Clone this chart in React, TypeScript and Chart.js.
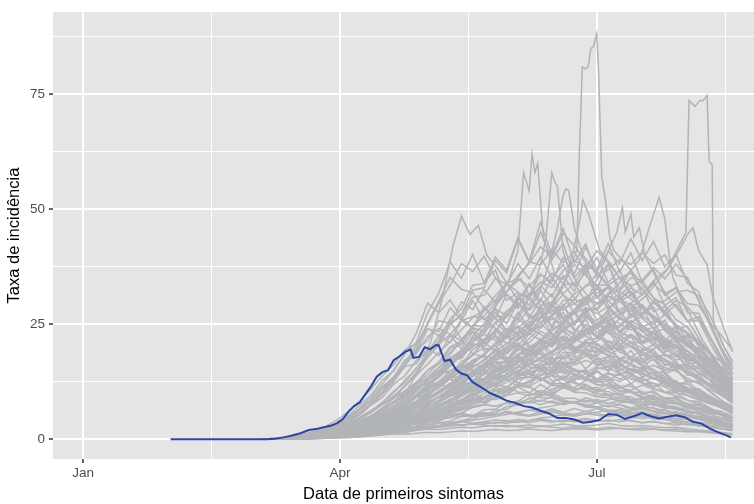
import React, { useEffect, useRef } from "react";
import { Chart, registerables } from "chart.js";

Chart.register(...registerables);

// ---- axis ticks (day of year 2020, 0 = 1 Jan) ----
const xMajorTicks = [0, 91, 182];
const xMajorLabels = ["Jan", "Apr", "Jul"];
const xMinorTicks = [45.5, 136.5, 227.5];
const yMajorTicks = [0, 25, 50, 75];
const yMinorTicks = [12.5, 37.5, 62.5, 87.5];

// ---- highlighted series (blue) ----
const blueDays = [31,65,68,71,74,77,80,83,86,88,90,92,94,96,98,100,102,104,106,108,110,112,114,116,117,119,121,123,125,126,128,130,132,134,136,138,141,144,147,150,153,156,159,162,165,168,171,174,177,180,183,186,189,192,195,198,201,204,207,210,213,216,219,222,225,228,229.5];
const blueVals = [0,0,0.1,0.4,0.8,1.3,2.0,2.3,2.7,3.0,3.5,4.4,6.0,7.2,8.0,9.8,11.5,13.6,14.6,15.0,17.2,18.0,19.0,19.5,17.7,17.9,20.0,19.6,20.5,20.4,17.0,17.3,15.2,14.3,13.9,12.4,11.3,10.1,9.3,8.4,7.9,7.2,6.9,6.2,5.6,4.6,4.6,4.3,3.6,3.8,4.2,5.5,5.3,4.4,5.0,5.7,5.0,4.5,4.9,5.2,4.8,3.8,3.4,2.3,1.5,0.8,0.4];

// ---- common day grid for grey series ----
const gridDays = [62,66,70,74,78,82,86,90,94,98,102,106,110,114,118,122,126,130,134,138,142,146,150,154,158,162,166,170,174,178,182,186,190,194,198,202,206,210,214,218,222,226,230];

const L1 = [0,0,0,0.1,0.2,0.3,0.4,0.6,0.8,1.0,1.2,1.5,1.6,1.8,2.0,2.2,2.1,2.4,2.6,2.5,2.8,3.0,2.7,2.9,3.1,2.8,3.0,3.3,3.0,2.9,3.1,3.4,3.0,2.8,3.0,2.7,2.5,2.6,2.3,2.0,1.8,1.5,1.2];
const L2 = [0,0,0.1,0.2,0.4,0.5,0.7,1.0,1.3,1.5,1.9,2.2,2.5,2.4,2.8,3.2,3.0,3.6,3.9,3.5,3.8,4.2,4.0,3.7,4.1,4.4,4.0,3.8,4.2,4.5,4.1,3.9,4.3,4.0,3.6,3.8,3.4,3.1,3.3,2.9,2.6,2.2,1.9];
const L3 = [0,0,0,0,0.1,0.2,0.3,0.4,0.6,0.7,0.9,1.0,1.2,1.1,1.3,1.5,1.4,1.6,1.8,1.7,1.9,2.1,1.9,2.0,2.2,2.0,1.9,2.1,2.3,2.2,2.0,2.2,2.4,2.1,2.0,2.2,1.9,1.8,1.6,1.7,1.4,1.2,1.0];
const L4 = [0,0.1,0.2,0.3,0.5,0.8,1.1,1.5,2.0,2.4,2.9,3.3,3.8,4.2,4.6,5.0,4.7,5.3,5.6,5.2,5.0,5.4,5.8,5.3,5.0,5.5,5.9,5.4,5.1,5.6,5.2,4.9,5.3,4.8,4.5,4.9,4.4,4.1,3.8,3.5,3.1,2.8,2.4];
const L5 = [0,0,0.1,0.1,0.2,0.4,0.5,0.7,0.9,1.2,1.4,1.7,2.0,2.3,2.6,2.5,2.9,3.2,3.0,3.4,3.7,3.5,3.9,4.3,4.0,4.6,4.9,5.3,5.0,5.5,5.9,6.3,5.8,6.2,6.6,6.1,5.7,6.0,5.4,5.0,4.6,4.1,3.7];
const L6 = [0,0,0,0.1,0.3,0.5,0.8,1.1,1.4,1.7,2.1,2.4,2.7,3.0,3.4,3.2,3.6,3.3,3.0,3.3,3.1,2.8,3.0,2.7,2.5,2.8,2.6,2.4,2.7,2.5,2.3,2.6,2.4,2.2,2.5,2.3,2.0,2.2,1.9,1.7,1.5,1.3,1.1];
const L7 = [0,0,0.1,0.2,0.3,0.5,0.7,0.9,1.2,1.6,2.0,2.5,3.0,3.5,4.0,4.6,5.2,5.8,6.5,7.0,7.5,7.2,7.8,8.3,7.9,8.5,8.0,7.6,8.1,7.5,7.0,7.4,6.8,6.2,6.6,6.0,5.5,5.8,5.1,4.6,4.0,3.5,3.0];
const L8 = [0,0,0,0.1,0.2,0.3,0.4,0.5,0.6,0.8,1.0,1.3,1.6,1.9,2.2,2.5,2.9,3.3,3.7,4.1,4.5,5.0,5.4,5.9,6.3,6.8,7.2,7.7,8.1,8.5,8.0,8.6,9.0,8.5,8.8,8.2,7.7,8.0,7.3,6.7,6.0,5.4,4.8];

const E1 = [0,0.1,0.3,0.6,1.0,1.5,2.2,3.0,4.5,6.5,8.5,11.2,13.1,16.4,18.6,22.3,24.1,22.8,21.4,18.6,17.9,15.6,14.4,12.3,11.5,9.8,9.6,8.2,8.1,7.0,6.8,5.9,5.7,5.0,5.1,4.4,4.3,3.8,3.6,3.1,2.9,2.4,2.1];
const E2 = [0,0,0.1,0.3,0.6,1.0,1.5,2.1,3.0,4.0,5.2,6.5,8.0,9.5,11.2,12.1,14.3,14.9,16.2,15.1,14.8,13.2,12.9,11.5,11.3,10.2,10.0,8.9,8.9,8.0,8.7,7.8,7.6,6.8,7.5,6.6,6.4,5.7,5.4,4.8,4.4,3.7,3.3];
const E3 = [0,0.1,0.2,0.4,0.8,1.3,2.0,3.0,4.6,6.8,9.2,12.0,15.0,18.5,23.0,29.6,27.5,30.3,26.4,24.2,21.0,19.3,16.6,16.2,14.1,13.2,11.7,11.6,10.2,10.1,9.2,9.1,8.3,8.3,7.6,7.5,6.8,6.6,5.8,5.7,4.9,4.5,3.9];
const E4 = [0,0,0.1,0.2,0.4,0.7,1.1,1.6,2.3,3.1,4.0,5.1,6.4,7.8,9.3,11.2,12.5,14.8,16.1,18.5,19.8,19.5,17.8,17.6,15.7,15.4,13.8,13.5,12.1,11.9,10.6,10.4,9.4,9.2,8.2,8.0,7.0,6.9,6.0,5.6,4.9,4.5,3.8];
const E5 = [0,0,0.1,0.3,0.7,1.2,1.9,2.8,4.0,5.6,7.5,9.8,12.5,16.2,19.6,25.3,30.1,35.2,32.6,31.9,28.5,26.3,23.6,22.8,19.7,18.8,16.6,15.8,13.7,13.3,11.9,11.7,10.3,10.2,9.0,8.9,7.9,7.7,6.8,6.5,5.6,5.3,4.5];
const E6 = [0,0,0.1,0.2,0.4,0.6,0.9,1.3,1.9,2.6,3.4,4.3,5.4,6.6,7.9,9.3,10.1,11.6,12.1,11.6,12.7,11.8,11.4,10.3,10.1,9.1,9.0,8.0,7.9,7.1,7.1,6.3,6.3,5.6,5.7,5.0,5.0,4.4,4.3,3.7,3.5,2.9,2.6];
const E7 = [0,0.1,0.2,0.4,0.7,1.1,1.6,2.3,3.3,4.6,6.1,8.0,10.4,12.3,15.5,17.7,20.8,22.7,25.8,26.7,26.3,24.1,22.4,20.1,19.3,17.1,16.3,14.6,14.3,13.1,12.8,11.6,11.3,10.2,10.2,9.1,9.0,8.0,7.8,6.8,6.5,5.4,5.0];
const E8 = [0,0,0,0.1,0.3,0.5,0.8,1.2,1.7,2.4,3.2,4.1,5.2,6.4,7.7,9.2,10.2,12.0,13.0,14.9,15.7,17.4,17.7,17.7,16.3,16.1,14.7,14.5,13.2,13.1,11.8,11.7,10.5,10.4,9.3,9.2,8.2,8.0,7.0,6.8,5.8,5.6,4.7];
const E9 = [0,0,0.1,0.2,0.3,0.5,0.8,1.1,1.5,2.0,2.6,3.3,4.1,5.0,6.0,7.2,7.9,9.4,10.1,11.6,12.0,13.5,13.5,14.5,13.4,13.4,12.1,12.1,11.0,10.9,9.9,9.8,8.8,8.7,7.8,7.7,6.8,6.7,5.8,5.7,4.8,4.7,3.9];
const E10 = [0,0,0.1,0.2,0.5,0.8,1.2,1.8,2.5,3.4,4.5,5.8,7.3,9.2,10.6,13.0,14.3,16.8,18.0,20.4,20.8,22.3,20.9,20.8,18.8,18.6,16.8,16.6,14.8,14.7,13.1,13.0,11.6,11.5,10.3,10.1,9.0,8.9,7.7,7.4,6.4,6.1,5.0];

const M1 = [0,0,0.1,0.2,0.4,0.7,1.0,1.4,2.0,2.7,3.6,4.5,5.9,7.2,8.3,10.5,12.1,13.8,16.9,18.2,21.5,23.1,27.4,25.9,30.8,33.2,36.1,34.8,38.0,35.6,33.4,30.1,31.5,27.2,24.8,23.0,20.6,21.4,18.1,16.3,14.2,12.5,10.8];
const M2 = [0,0,0,0.1,0.3,0.5,0.8,1.2,1.7,2.2,3.0,3.8,4.9,6.1,7.0,8.6,10.2,11.5,13.4,15.8,17.1,19.6,22.3,21.4,24.9,26.7,28.3,26.2,27.5,24.1,22.6,20.3,19.8,17.5,15.9,14.7,13.2,12.6,11.1,9.8,8.9,7.6,6.7];
const M3 = [0,0,0.1,0.1,0.2,0.4,0.6,0.9,1.3,1.8,2.4,3.1,3.9,4.8,5.9,7.1,8.0,9.6,11.2,12.3,14.5,16.1,17.2,19.8,21.0,23.5,22.1,25.6,27.9,29.4,31.8,33.1,30.6,32.2,28.7,26.0,24.5,21.9,20.4,18.1,16.5,14.2,12.8];
const M4 = [0,0.1,0.2,0.3,0.5,0.8,1.2,1.7,2.4,3.2,4.1,5.3,6.4,7.9,9.1,10.8,12.5,13.7,15.6,17.2,18.4,20.6,22.1,23.0,24.2,22.8,21.5,22.4,20.1,18.7,17.9,16.2,15.4,14.0,13.1,12.2,11.4,10.1,9.5,8.6,7.7,6.9,6.0];
const M5 = [0,0,0,0.1,0.2,0.3,0.5,0.7,1.0,1.4,1.9,2.5,3.3,4.2,5.1,6.3,7.5,8.2,10.1,11.4,12.8,14.9,16.2,18.5,19.8,21.6,24.0,25.3,28.1,31.0,29.4,30.2,27.5,25.1,23.8,21.0,19.6,18.2,16.0,14.4,12.9,11.5,10.1];
const M6 = [0,0,0.1,0.2,0.3,0.5,0.7,1.0,1.4,1.9,2.5,3.1,3.9,4.6,5.5,6.6,7.4,8.5,9.8,10.6,11.9,13.1,14.0,15.6,16.4,17.8,18.9,20.1,19.2,18.6,17.3,17.9,16.1,15.2,14.6,13.2,12.5,11.6,10.4,9.6,8.5,7.6,6.8];
const M7 = [0,0.1,0.2,0.4,0.6,0.9,1.4,2.0,2.8,3.8,5.0,6.4,8.1,9.8,11.9,14.2,16.5,18.9,21.3,24.6,26.8,29.5,32.1,34.8,33.2,36.0,33.7,31.4,29.6,27.1,25.5,23.0,21.8,20.1,18.4,17.2,15.6,14.8,13.3,12.1,10.8,9.6,8.5];
const M8 = [0,0,0,0.1,0.1,0.2,0.4,0.6,0.8,1.1,1.5,2.0,2.6,3.3,4.0,4.9,5.9,7.0,8.1,9.4,10.5,12.0,13.3,14.9,16.4,17.2,18.9,20.5,21.7,23.2,24.9,26.3,25.1,23.8,24.4,22.1,20.6,19.2,17.5,16.3,14.6,13.1,11.8];
const M9 = [0,0,0.1,0.2,0.3,0.5,0.8,1.1,1.6,2.2,3.0,3.9,5.1,6.4,7.9,9.6,11.6,13.8,16.0,18.3,21.2,23.4,26.8,29.1,31.5,34.2,33.0,36.7,38.9,37.2,41.0,38.4,35.1,36.2,32.6,29.9,27.4,25.0,23.2,20.8,18.6,16.9,15.0];
const M10 = [0,0,0.1,0.2,0.4,0.6,0.9,1.3,1.8,2.4,3.1,3.9,4.8,5.8,6.9,8.0,9.2,10.5,11.8,12.6,14.1,15.3,16.0,17.4,18.6,19.2,20.9,21.3,22.1,20.4,19.6,18.2,17.6,16.0,15.4,14.1,13.0,12.2,11.0,10.1,9.0,8.2,7.3];
const M11 = [0,0,0.1,0.3,0.5,0.8,1.2,1.8,2.5,3.4,4.5,5.8,7.3,9.1,10.9,12.9,15.0,17.2,19.1,21.3,23.6,25.2,27.9,29.4,28.1,30.2,29.0,26.5,27.8,24.2,22.6,21.3,19.0,17.9,16.1,15.2,13.6,12.5,11.2,10.0,8.9,7.9,6.9];
const M12 = [0,0,0,0.1,0.2,0.3,0.5,0.7,0.9,1.2,1.6,2.0,2.5,3.1,3.7,4.4,5.2,6.0,6.9,7.8,8.8,9.9,10.7,11.8,12.6,13.9,14.5,15.6,16.2,17.1,16.4,15.8,16.2,14.9,14.1,13.2,12.5,11.4,10.6,9.7,8.8,7.9,7.0];
const M13 = [0,0,0.1,0.2,0.4,0.6,0.9,1.3,1.9,2.6,3.5,4.6,5.9,7.4,9.2,11.3,13.6,16.3,19.0,22.4,25.1,28.9,32.0,35.6,38.2,41.9,39.6,44.8,42.1,38.5,36.0,33.2,30.5,29.1,26.3,24.2,22.0,20.1,18.4,16.5,14.6,12.8,11.2];
const M14 = [0,0.1,0.2,0.4,0.7,1.1,1.6,2.3,3.2,4.4,5.8,7.5,9.4,11.6,13.9,16.3,18.9,21.2,23.8,26.5,28.1,31.2,33.9,32.0,30.6,28.2,29.4,26.1,24.0,22.5,20.8,19.2,17.6,16.5,15.1,14.0,12.8,11.9,10.8,9.7,8.7,7.7,6.8];
const M15 = [0,0,0.1,0.2,0.3,0.5,0.7,1.0,1.4,1.9,2.5,3.2,4.0,4.9,5.9,7.0,8.2,9.3,10.6,11.9,13.1,14.6,15.4,16.9,18.1,19.7,20.4,22.2,21.6,23.8,25.1,23.4,22.6,21.0,19.8,18.5,17.4,16.0,14.8,13.2,11.9,10.6,9.4];

const T1 = [0,0,0,0.1,0.2,0.3,0.4,0.6,0.8,1.1,1.4,1.9,2.2,3.0,3.4,4.4,4.8,6.1,6.6,8.2,8.7,10.6,11.0,13.1,13.6,16.1,16.3,18.8,19.0,21.6,21.9,24.4,24.7,27.3,27.0,29.8,27.9,30.2,28.8,26.1,22.0,17.5,13.0];
const T2 = [0,0,0,0.1,0.1,0.2,0.3,0.5,0.7,0.9,1.2,1.7,1.9,2.7,2.9,3.9,4.2,5.5,5.7,7.2,7.6,9.3,9.6,11.6,11.8,14.0,14.3,16.5,16.8,18.9,19.3,21.1,21.4,22.8,21.3,23.1,21.0,20.5,18.2,17.0,14.6,11.8,9.5];
const T3 = [0,0,0.1,0.2,0.3,0.5,0.7,1.0,1.4,1.9,2.5,3.3,3.9,5.2,5.9,7.7,8.5,10.7,11.5,14.2,15.0,17.9,18.9,22.1,23.0,26.3,26.8,30.2,30.4,33.5,33.6,33.5,35.2,33.3,34.6,30.8,29.3,26.0,24.4,21.0,18.5,14.3,11.5];
const T4 = [0,0,0,0,0.1,0.2,0.3,0.4,0.6,0.8,1.0,1.3,1.7,1.9,2.6,2.8,3.6,3.9,4.9,5.1,6.4,6.5,8.0,8.2,9.9,9.8,11.9,11.6,13.8,13.4,15.6,15.0,17.1,16.6,18.4,17.9,18.3,17.9,19.3,17.4,16.0,14.2,13.0];
const T5 = [0,0,0.1,0.1,0.2,0.4,0.6,0.8,1.1,1.5,2.0,2.6,3.3,4.1,5.0,6.0,7.1,8.3,9.6,11.0,12.2,13.9,15.1,16.8,18.2,19.5,21.0,20.4,22.6,23.9,25.0,24.1,26.2,25.4,26.8,25.0,27.1,24.6,22.9,20.8,17.4,14.1,11.0];
const T6 = [0,0,0,0.1,0.1,0.2,0.3,0.4,0.6,0.8,1.1,1.5,1.7,2.4,2.7,3.6,3.9,5.1,5.6,7.0,7.5,9.3,9.7,11.8,12.4,14.8,15.1,17.7,18.4,20.8,21.3,23.6,24.4,26.7,27.3,29.6,30.1,32.0,32.4,31.2,27.0,21.4,16.5];
const T7 = [0,0,0.1,0.2,0.3,0.5,0.7,0.9,1.2,1.6,2.1,2.6,3.2,3.9,4.7,5.5,6.4,7.4,8.4,9.5,10.6,11.7,12.9,13.9,15.1,16.0,17.2,18.1,18.9,19.6,18.8,20.1,19.4,20.3,18.9,18.1,17.0,15.8,14.6,13.4,12.1,10.9,9.7];
const T8 = [0,0,0,0.1,0.2,0.3,0.5,0.7,1.0,1.3,1.7,2.3,2.7,3.7,4.1,5.5,5.9,7.7,8.2,10.4,10.8,13.4,14.0,16.8,17.4,20.5,21.2,24.3,25.0,27.9,28.5,31.8,32.2,35.1,34.6,37.4,34.9,38.1,34.9,30.2,25.1,19.4,14.2];
const T9 = [0,0,0,0,0.1,0.1,0.2,0.3,0.4,0.6,0.8,1.1,1.2,1.7,1.9,2.6,2.7,3.6,3.8,4.9,5.0,6.3,6.5,7.9,8.1,9.6,9.6,11.3,11.2,12.8,12.6,14.2,13.9,15.3,14.8,16.1,14.9,16.2,15.9,15.8,14.0,13.3,11.5];
const T10 = [0,0,0.1,0.2,0.4,0.6,0.9,1.2,1.7,2.3,3.0,3.9,4.8,5.9,7.1,8.5,9.9,11.5,13.1,14.9,16.5,18.4,19.8,21.7,23.0,24.6,26.2,25.1,27.4,28.6,27.3,28.9,26.5,25.2,23.4,22.0,20.1,18.6,17.0,15.3,13.6,12.1,10.6];
const T11 = [0,0,0,0,0.1,0.1,0.2,0.3,0.4,0.5,0.7,0.9,1.3,1.4,2.0,2.2,2.9,3.1,4.1,4.3,5.5,5.7,7.1,7.4,8.9,9.3,10.9,11.4,13.2,13.5,15.4,15.7,17.6,17.8,19.5,19.6,21.3,21.2,22.4,21.3,19.0,15.6,12.3];
const T12 = [0,0,0.1,0.2,0.3,0.5,0.8,1.1,1.5,2.0,2.7,3.5,4.4,5.4,6.6,7.9,9.3,10.9,12.6,14.3,16.2,18.0,19.9,21.8,23.6,25.2,26.9,28.4,29.5,30.8,29.6,31.2,30.0,31.4,28.5,26.9,25.0,23.1,21.0,19.2,17.2,15.3,13.5];
const T13 = [0,0,0,0.1,0.2,0.3,0.4,0.6,0.8,1.1,1.4,1.9,2.2,2.9,3.3,4.2,4.7,5.8,6.3,7.6,8.2,9.8,10.2,11.9,12.4,14.1,14.6,16.2,16.6,18.1,18.3,19.7,19.8,21.1,21.0,22.2,20.5,22.4,20.7,19.5,17.6,15.8,14.0];

const P1 = [0,0,0.1,0.3,0.6,1.0,1.6,2.4,3.5,4.8,6.2,7.7,9.0,10.4,11.2,12.5,11.8,13.1,12.2,14.0,12.9,13.8,15.1,13.6,14.4,12.8,13.9,15.2,14.1,13.0,14.6,13.4,12.5,13.7,12.2,11.5,12.4,10.9,10.1,9.2,8.1,7.0,6.0];
const P2 = [0,0,0.1,0.2,0.4,0.7,1.1,1.6,2.2,2.9,3.7,4.5,5.3,6.1,6.9,7.6,7.1,8.2,7.6,8.8,8.0,9.1,8.4,7.8,8.9,8.2,9.4,8.6,7.9,9.0,8.3,7.7,8.5,7.9,7.2,7.8,7.0,6.5,6.9,6.1,5.4,4.6,3.9];
const P3 = [0,0,0.1,0.2,0.4,0.7,1.1,1.6,2.3,3.1,4.1,5.3,6.6,8.0,9.5,11.0,12.6,14.1,15.5,16.8,18.2,17.4,19.5,20.8,19.2,21.6,20.1,22.4,19.8,21.2,20.5,18.9,21.7,20.3,19.1,20.6,18.4,17.2,18.0,16.1,14.3,12.4,10.6];
const P4 = [0,0,0.1,0.2,0.5,0.8,1.3,1.9,2.7,3.7,4.9,6.3,7.9,9.6,11.5,13.5,15.6,17.6,19.4,21.2,22.8,21.5,24.1,23.0,25.6,24.2,26.8,23.9,25.1,27.0,24.6,25.9,23.4,24.8,22.1,23.5,21.0,19.8,20.6,18.2,16.0,13.6,11.5];
const P5 = [0,0,0.1,0.2,0.3,0.5,0.8,1.1,1.5,1.9,2.4,2.9,3.4,3.9,4.3,4.8,5.2,4.9,5.5,5.1,5.8,5.3,6.0,5.6,5.2,5.9,6.3,5.7,5.4,6.1,5.6,5.1,5.7,5.3,4.9,5.4,4.8,4.5,4.9,4.3,3.8,3.3,2.8];
const P6 = [0,0,0,0.1,0.3,0.5,0.8,1.2,1.7,2.3,3.0,3.8,4.7,5.7,6.8,8.0,9.1,10.2,11.4,12.5,13.1,14.2,13.5,15.0,14.1,15.6,14.8,16.3,15.2,14.4,15.9,16.8,15.6,17.9,16.5,18.2,17.0,15.8,16.4,14.6,12.8,11.0,9.3];
const P7 = [0,0,0.1,0.1,0.3,0.5,0.7,1.0,1.4,1.9,2.6,3.4,4.4,5.6,7.0,8.6,10.3,12.2,14.2,16.3,18.4,20.5,22.4,24.3,26.1,27.6,29.0,28.1,30.4,29.2,31.1,28.6,30.0,27.8,29.3,26.5,25.1,23.4,21.6,19.5,17.3,15.0,12.8];
const P8 = [0,0,0,0.1,0.2,0.4,0.6,0.9,1.2,1.6,2.1,2.7,3.3,4.0,4.7,5.4,6.1,6.9,7.6,8.3,9.0,8.6,9.5,10.1,9.4,10.6,10.0,11.2,10.4,11.6,10.8,12.1,11.3,10.6,11.8,10.9,10.2,10.8,9.6,8.8,7.9,6.9,6.0];
const P9 = [0,0,0.1,0.2,0.3,0.6,0.9,1.4,2.0,2.8,3.8,5.0,6.4,8.0,9.8,11.7,13.8,16.0,18.2,20.1,21.8,23.4,22.0,24.6,23.1,21.5,22.8,20.6,19.4,21.0,19.8,18.3,19.6,17.8,16.9,18.1,16.4,15.5,14.8,13.4,11.8,10.2,8.8];
const P10 = [0,0,0,0.1,0.1,0.2,0.4,0.6,0.9,1.2,1.6,2.1,2.7,3.4,4.2,5.1,6.1,7.2,8.4,9.7,11.1,12.6,14.2,15.9,17.6,19.2,20.9,22.3,21.1,23.6,22.4,24.9,23.5,25.8,24.3,22.9,24.1,21.8,20.4,18.7,16.5,14.2,12.1];
const O1b = [0,0,0.1,0.3,0.6,1.0,1.6,2.5,3.8,5.5,7.6,10.1,13.0,16.5,20.5,25.0,29.6,33.5,38.2,36.5,39.8,35.2,31.6,29.4,27.1,25.3,22.8,21.6,19.4,18.3,16.5,15.6,14.2,13.1,12.3,11.0,10.2,9.4,8.5,7.6,6.6,5.6,4.8];

const A1 = [0,0,0.1,0.3,0.6,1.0,1.7,2.6,3.9,5.3,7.4,9.1,12.0,13.8,17.1,18.9,22.5,21.0,25.8,24.1,28.9,26.2,31.5,28.4,33.8,30.1,35.2,31.6,34.0,29.8,33.1,28.2,31.0,26.5,28.7,24.0,25.9,21.8,22.6,18.5,16.2,12.4,9.8];
const A2 = [0,0.1,0.2,0.5,0.9,1.5,2.3,3.4,4.8,6.7,8.5,11.2,12.6,15.8,16.4,19.9,18.2,22.6,19.7,23.4,20.1,22.8,18.6,20.9,17.0,18.8,15.3,16.9,13.8,15.2,12.3,13.6,11.0,12.1,9.7,10.6,8.5,9.2,7.3,7.8,6.1,5.2,4.0];
const A3 = [0,0,0.1,0.2,0.4,0.7,1.1,1.7,2.5,3.5,4.8,6.4,8.2,10.5,12.1,15.0,16.4,19.8,20.6,24.2,23.5,27.6,25.1,29.8,26.4,30.5,27.0,29.2,25.3,27.8,23.1,25.0,20.6,22.4,18.2,19.5,16.0,16.8,13.9,14.1,11.4,9.6,7.8];
const A4 = [0,0,0.1,0.2,0.4,0.7,1.0,1.5,2.1,2.9,3.9,5.0,6.4,7.2,9.1,9.8,11.9,11.4,13.8,12.6,15.2,13.4,16.5,14.1,17.3,14.6,17.9,15.0,18.2,15.3,17.6,14.8,16.9,14.0,15.8,13.1,14.2,11.9,12.6,10.5,9.4,7.9,6.5];
const A5 = [0,0,0,0.1,0.2,0.3,0.5,0.8,1.1,1.6,2.2,3.0,3.6,4.9,5.5,7.3,7.9,10.0,10.4,12.9,13.1,15.8,15.9,18.6,18.4,21.5,20.8,24.1,23.0,26.6,24.8,28.3,26.1,29.7,26.9,30.2,27.0,29.4,25.8,26.6,22.1,18.0,14.2];
const A6 = [0,0,0.1,0.3,0.5,0.9,1.4,2.1,3.1,4.3,5.9,7.9,10.1,12.9,15.2,18.9,21.0,25.2,26.8,30.9,31.3,35.0,33.6,38.2,34.9,39.6,35.1,38.0,33.2,36.4,30.6,33.1,27.5,29.4,24.3,25.7,21.2,22.0,18.3,18.4,15.1,12.0,9.6];
const A7 = [0,0,0.1,0.2,0.3,0.5,0.8,1.2,1.7,2.3,3.0,3.9,4.5,5.6,6.0,7.3,7.4,8.7,8.3,9.8,9.0,10.7,9.6,11.4,10.1,11.9,10.4,12.1,10.5,11.8,10.2,11.3,9.7,10.5,9.0,9.6,8.2,8.6,7.3,7.4,6.2,5.3,4.4];
const A8 = [0,0,0,0.1,0.2,0.4,0.6,0.9,1.3,1.8,2.5,3.3,4.3,5.4,6.7,8.1,9.2,11.0,11.8,14.0,14.3,16.9,16.6,19.5,18.7,21.9,20.4,23.8,21.6,25.0,22.3,25.4,22.0,24.6,21.1,23.0,19.6,20.8,17.5,17.9,14.6,11.8,9.5];
const A9 = [0,0.1,0.3,0.6,1.1,1.8,2.8,4.2,6.0,8.3,10.9,13.8,16.2,19.5,20.8,24.1,22.5,25.6,21.8,23.4,19.2,20.5,16.9,17.8,14.6,15.3,12.7,13.1,10.9,11.2,9.4,9.6,8.0,8.1,6.8,6.9,5.7,5.7,4.7,4.6,3.8,3.1,2.5];
const A10 = [0,0,0,0.1,0.2,0.3,0.5,0.7,1.0,1.3,1.7,2.1,2.6,3.0,3.5,3.9,4.4,4.6,5.1,5.0,5.6,5.3,6.1,5.6,6.4,5.8,6.6,5.9,6.7,6.0,6.6,5.9,6.4,5.7,6.1,5.4,5.7,5.0,5.2,4.5,4.0,3.4,2.8];
const A11 = [0,0,0.1,0.2,0.4,0.6,1.0,1.5,2.2,3.1,4.2,5.6,7.2,9.1,10.6,13.0,14.2,17.1,17.6,20.8,20.2,23.9,22.3,26.5,23.7,27.9,24.2,27.6,23.5,26.1,21.9,23.8,19.8,21.1,17.4,18.2,15.0,15.3,12.7,12.5,10.4,8.5,6.9];
const A12 = [0,0,0,0.1,0.3,0.5,0.8,1.2,1.8,2.6,3.6,4.8,6.4,8.2,10.4,12.8,15.6,18.4,21.6,24.5,27.9,30.2,33.8,35.1,38.6,37.9,41.2,38.4,40.8,36.2,39.5,34.1,36.8,31.2,33.0,27.8,28.9,24.0,24.6,20.1,17.0,13.6,10.8];
const A13 = [0,0,0,0.1,0.2,0.3,0.5,0.7,1.0,1.4,1.9,2.5,3.1,3.9,4.6,5.6,6.2,7.4,7.8,9.1,9.2,10.6,10.4,11.9,11.4,13.0,12.2,13.8,12.8,14.3,13.1,14.5,13.0,14.2,12.6,13.5,11.8,12.4,10.8,11.0,9.3,7.8,6.4];
const A14 = [0,0,0,0.1,0.2,0.3,0.4,0.6,0.9,1.2,1.6,2.1,2.8,3.6,4.5,5.6,6.8,8.2,9.7,11.4,13.2,15.2,17.3,19.5,21.9,24.2,26.8,28.9,31.6,33.2,35.9,36.8,39.1,38.0,40.6,38.2,40.1,35.7,35.2,30.1,24.8,19.6,15.3];
const A15 = [0,0,0,0,0.1,0.2,0.3,0.4,0.6,0.8,1.0,1.3,1.5,1.8,2.1,2.4,2.6,2.9,3.1,3.4,3.3,3.7,3.5,3.9,3.6,4.1,3.7,4.2,3.8,4.3,3.9,4.2,3.8,4.1,3.6,3.9,3.4,3.6,3.1,3.2,2.7,2.3,1.9];
const A16 = [0,0,0,0.1,0.1,0.2,0.4,0.6,0.8,1.1,1.5,2.0,2.5,3.2,3.8,4.7,5.3,6.5,7.1,8.6,9.0,10.9,11.2,13.3,13.4,15.6,15.5,17.8,17.3,19.7,18.9,21.4,20.1,22.7,21.0,23.5,21.4,23.6,21.0,21.9,18.4,15.0,12.0];
const A17 = [0,0.1,0.2,0.4,0.7,1.1,1.7,2.5,3.5,4.7,6.2,7.6,9.4,10.3,12.5,12.8,14.9,14.2,16.1,14.6,16.3,14.5,15.9,13.9,15.0,13.0,13.9,11.9,12.6,10.8,11.3,9.6,10.0,8.5,8.8,7.4,7.6,6.4,6.4,5.4,4.6,3.8,3.1];
const A18 = [0,0,0.1,0.2,0.4,0.7,1.1,1.6,2.4,3.4,4.6,6.2,8.0,10.3,12.2,15.0,16.8,20.1,21.3,24.8,24.6,28.4,26.9,30.9,28.2,32.4,28.7,31.5,27.4,30.2,25.9,27.8,23.4,24.9,20.8,21.7,18.1,18.6,15.5,15.4,12.7,10.3,8.3];
const A19 = [0,0,0.1,0.2,0.3,0.5,0.7,1.0,1.4,1.8,2.3,2.9,3.5,4.1,4.8,5.3,5.9,6.2,6.8,6.9,7.5,7.2,7.9,7.4,8.2,7.5,8.3,7.5,8.2,7.3,7.9,7.0,7.5,6.6,6.9,6.1,6.3,5.5,5.5,4.8,4.2,3.5,2.9];
const A20 = [0,0,0.1,0.2,0.3,0.5,0.8,1.2,1.7,2.3,3.1,4.1,5.1,6.4,7.4,9.2,10.0,12.1,12.4,14.6,14.1,16.8,15.4,18.3,16.2,19.5,16.6,19.8,16.5,19.2,15.9,18.0,14.8,16.4,13.5,14.6,12.0,12.7,10.5,10.8,8.9,7.3,5.9];

const B1 = [0,0.1,0.2,0.5,0.9,1.5,2.4,3.6,5.2,7.4,9.6,12.8,14.9,18.7,21.0,27.5,31.8,38.6,35.0,40.2,34.1,36.8,30.2,31.9,26.5,27.4,22.8,23.6,19.6,20.1,16.8,17.2,14.3,14.5,12.1,12.2,10.2,10.1,8.4,8.2,6.8,5.6,4.5];
const B2 = [0,0,0.1,0.2,0.4,0.7,1.1,1.7,2.5,3.6,5.0,6.8,8.9,11.6,14.2,17.8,20.4,24.9,27.1,32.4,33.0,38.9,36.2,43.5,38.4,45.1,39.0,42.6,35.2,38.1,31.0,33.2,27.1,28.6,23.5,24.4,20.2,20.6,17.1,17.0,14.2,11.4,9.0];
const B3 = [0,0,0,0.1,0.3,0.5,0.8,1.2,1.8,2.5,3.5,4.7,6.1,7.9,9.6,12.1,13.8,16.9,18.4,22.0,22.9,26.8,26.5,30.6,29.2,33.4,31.0,35.6,32.1,37.2,32.8,38.0,32.6,36.9,31.4,34.5,29.1,30.8,25.6,25.9,21.0,16.8,13.1];
const B4 = [0,0.1,0.2,0.4,0.7,1.2,1.9,2.9,4.2,5.9,8.0,10.5,13.4,15.9,19.6,21.4,25.8,25.1,29.9,28.2,32.6,29.8,34.1,30.2,33.8,29.0,31.6,26.4,28.1,23.2,24.4,20.0,20.8,17.1,17.5,14.5,14.6,12.2,12.0,10.1,8.6,7.0,5.6];
const B5 = [0,0,0,0.1,0.2,0.3,0.5,0.7,1.0,1.4,1.9,2.6,3.4,4.4,5.5,6.9,8.3,10.1,11.7,14.0,15.6,18.5,20.1,23.6,25.0,28.9,29.8,33.6,33.9,37.8,36.5,40.9,38.2,43.6,38.9,43.0,37.5,40.2,33.9,32.1,25.6,20.0,15.8];
const B6 = [0,0,0.1,0.2,0.4,0.6,0.9,1.4,2.0,2.8,3.9,5.2,6.8,8.6,10.4,12.9,14.6,17.8,18.6,22.1,21.4,25.3,23.2,27.6,24.1,28.9,24.6,29.3,24.8,28.6,24.1,27.4,22.9,25.6,21.1,23.2,18.9,20.2,16.4,16.6,13.5,10.9,8.7];
const B7 = [0,0,0.1,0.2,0.4,0.7,1.1,1.7,2.5,3.6,5.0,6.8,9.0,11.7,14.5,18.3,21.6,26.2,28.4,33.5,33.9,39.6,36.8,43.9,38.6,47.2,40.1,45.8,38.4,42.5,35.1,38.2,31.2,33.6,27.2,28.8,23.6,24.3,20.1,19.8,16.4,13.2,10.4];
const B8 = [0,0,0.1,0.2,0.3,0.5,0.8,1.2,1.7,2.4,3.3,4.4,5.6,7.1,8.3,10.2,11.1,13.4,13.6,16.2,15.8,18.6,17.2,20.4,18.1,21.6,18.5,22.0,18.6,21.5,18.1,20.6,17.2,19.3,15.9,17.5,14.3,15.2,12.4,12.6,10.3,8.4,6.7];
const B9 = [0,0,0,0.1,0.1,0.2,0.4,0.6,0.8,1.1,1.5,2.0,2.6,3.3,4.1,5.1,6.1,7.4,8.6,10.2,11.5,13.5,14.9,17.2,18.4,21.1,22.0,24.9,25.4,28.3,28.1,31.0,30.2,32.9,31.4,33.8,31.6,33.0,29.5,29.1,25.4,22.6,19.4];
const B10 = [0,0,0.1,0.2,0.3,0.5,0.8,1.1,1.6,2.2,2.9,3.8,4.8,5.7,7.0,7.7,9.2,9.4,11.0,10.6,12.4,11.5,13.6,12.1,14.5,12.6,15.1,12.9,15.3,13.0,15.0,12.7,14.4,12.1,13.6,11.3,12.4,10.3,11.0,9.0,8.2,6.8,5.5];
const B11 = [0,0.1,0.2,0.4,0.8,1.3,2.0,3.1,4.5,6.4,8.6,11.4,13.5,17.2,18.9,24.0,23.4,28.6,25.9,30.1,26.0,28.4,23.1,24.6,20.2,21.0,17.4,17.8,14.8,15.0,12.5,12.6,10.5,10.5,8.8,8.7,7.3,7.1,6.0,5.8,4.8,3.9,3.1];
const B12 = [0,0,0,0.1,0.2,0.4,0.6,0.9,1.3,1.9,2.6,3.5,4.6,6.0,7.5,9.4,11.3,13.9,16.1,19.5,21.2,25.4,26.8,31.2,31.4,35.8,34.2,39.5,36.0,41.8,36.9,42.6,36.4,40.5,34.1,37.0,31.3,32.8,27.5,27.4,22.3,17.9,14.0];

// ---- outlying grey series with their own days ----
const O1Days = [63,75,87,95,103,111,115,119,123,127,131,134,137,140,143,147,151,155,159,163,167,171,175,179,183,187,191,195,199,203,207,211,215,219,223,227,230];
const O1Vals = [0,0.3,1.2,2.5,5,8.5,11,15,21,30,42,48.5,44.5,46.5,40,37,33,35,30,27,28,24,22,23,19,18,16,15,14,13,11.5,11,10,9,8,7,6];
const O2Days = [63,75,87,95,103,111,119,127,135,143,147,151,154,156,158,159,160,161,163,165,167,171,175,179,183,187,191,195,199,203,207,211,215,219,223,227,230];
const O2Vals = [0,0.2,0.9,2,4,6.5,10,14,19,25,30,35,41,58,54,62,58,60,44,40,36,33,30,31,27,25,23,22,20,18.5,17,15.5,14,12.5,11,9.5,8];
const O3Days = [63,75,87,95,103,111,119,127,135,143,151,155,159,162,164,166,167,168,170,172,175,179,183,187,191,195,199,203,207,211,215,219,223,227,230];
const O3Vals = [0,0.2,0.8,1.8,3.5,5.8,8.6,12,15.5,19,24,28,32,38,44,58,56,55,41,37,34,31,33,28,26,24,22,20,18,16,15,13,11,9.5,8];
const O4Days = [63,79,91,99,107,115,123,131,139,147,155,161,165,168,170,171,172,174,177,181,187,193,199,205,211,217,223,227,230];
const O4Vals = [0,0.4,1.3,2.6,4.5,7,10,13.5,17,21,26,31,38,46,53,54.5,54,46,40,37,33,31,28,25,22,19,15,12,10];
const O5Days = [63,79,91,99,107,115,123,131,139,147,155,163,169,172,174.9,175.8,176.8,177.7,178.9,179.8,180.7,181.9,182.5,183.7,185,186.5,188,191,195,199,203,207,211,215,219,223,227,230];
const O5Vals = [0,0.3,1.2,2.5,4.2,6.5,9.3,12.6,16,19.5,23,27,32,36,41.3,62.8,81,80.5,81,85,85.3,88.2,81,57,52,44,41,39,36,33,30,27,24,21,18,15,12,9.5];
const O6Days = [63,79,91,99,107,115,123,131,139,147,155,163,167,171,174,176,177,179,181,183,187,191,195,199,203,207,211,215,219,223,227,230];
const O6Vals = [0,0.3,1,2,3.6,5.6,8,11,14,17.5,21,26,30,35,42,48,52,49,45,41,38,34,31,28,26,23,21,18.5,16,13.5,11,9];
const O7Days = [63,79,91,99,107,115,123,131,139,147,155,163,171,179,183,186,189,191,192,194,195,197,198,199,203,207,211,215,219,223,227,230];
const O7Vals = [0,0.2,0.8,1.6,2.8,4.4,6.5,9,12,15,18.5,22,26,31,36,41,45,50.4,45,49,44,46,43,40,35,31,28,25,21,18,14,11];
const O8Days = [63,79,91,99,107,115,123,131,139,147,155,163,171,179,187,193,197,199,201,204,206,208,209,211,215,219,223,227,230];
const O8Vals = [0,0.2,0.7,1.4,2.5,4,6,8.3,11,14,17,20.5,24,28,32,36,39,43,47,52.6,48,38,35,32,27,22,18,14,11];
const O9Days = [63,79,91,99,107,115,123,131,139,147,155,163,171,179,187,195,199,203,207,211,213.5,214.6,216.7,218.5,219.6,221,221.7,222.8,223.2,225,227,230];
const O9Vals = [0,0.2,0.6,1.2,2,3.2,4.8,6.8,9,11.5,14,17,20,23,26,29,31,34,37,42,45,73.7,72.4,73.7,73.7,74.8,60.5,59.6,25.6,23,20,17];
const O10Days = [63,79,91,99,107,115,123,131,139,147,155,163,171,179,187,195,199,203,207,211,214,216,218,221,223,227,230];
const O10Vals = [0,0.2,0.7,1.4,2.4,3.8,5.6,7.8,10,12.5,15,18,21,24,27,30,32,35,37,41,44.5,46,41,38,31,24,19];

const gridSeries = [
  L1,L2,L3,L4,L5,L6,L7,L8,E1,E2,E3,E4,E5,E6,E7,E8,E9,E10,
  M1,M2,M3,M4,M5,M6,M7,M8,M9,M10,M11,M12,M13,M14,M15,
  T1,T2,T3,T4,T5,T6,T7,T8,T9,T10,T11,T12,T13,
  P1,P2,P3,P4,P5,P6,P7,P8,P9,P10,O1b,
  A1,A2,A3,A4,A5,A6,A7,A8,A9,A10,A11,A12,A13,A14,A15,A16,A17,A18,A19,A20,
  B1,B2,B3,B4,B5,B6,B7,B8,B9,B10,B11,B12,
];
const customSeries = [
  [O1Days, O1Vals], [O2Days, O2Vals], [O3Days, O3Vals], [O4Days, O4Vals], [O5Days, O5Vals],
  [O6Days, O6Vals], [O7Days, O7Vals], [O8Days, O8Vals], [O9Days, O9Vals], [O10Days, O10Vals],
];

const FONT = "'Liberation Sans', Arial, Helvetica, sans-serif";
const GREY = "#B2B4B7";
const BLUE = "#2B45A6";

const toPoints = (days: number[], vals: number[]) =>
  days.map((d, i) => ({ x: d, y: vals[i] })).filter((p) => p.y !== undefined);

const panelBg = {
  id: "panelBg",
  beforeDraw(chart: any) {
    const { ctx, chartArea } = chart;
    ctx.save();
    ctx.fillStyle = "#FFFFFF";
    ctx.fillRect(0, 0, chart.width, chart.height);
    ctx.fillStyle = "#E5E5E5";
    ctx.fillRect(chartArea.left, chartArea.top, chartArea.right - chartArea.left, chartArea.bottom - chartArea.top);
    ctx.restore();
  },
};

export default function App() {
  const ref = useRef<HTMLCanvasElement>(null);
  useEffect(() => {
    const datasets: any[] = [];
    datasets.push({
      data: toPoints(blueDays, blueVals),
      borderColor: BLUE,
      borderWidth: 2,
      pointRadius: 0,
      tension: 0,
      fill: false,
      order: 0,
    });
    const greyStyle = { borderColor: GREY, borderWidth: 1.5, pointRadius: 0, tension: 0, fill: false, order: 1 };
    gridSeries.forEach((vals) => {
      datasets.push({ ...greyStyle, data: toPoints(gridDays, vals) });
    });
    customSeries.forEach(([days, vals]) => {
      datasets.push({ ...greyStyle, data: toPoints(days, vals) });
    });

    const isMajorX = (v: number) => xMajorTicks.includes(v);
    const isMajorY = (v: number) => yMajorTicks.includes(v);

    const chart = new Chart(ref.current as HTMLCanvasElement, {
      type: "line",
      data: { datasets },
      plugins: [panelBg],
      options: {
        animation: false,
        responsive: false,
        maintainAspectRatio: false,
        devicePixelRatio: 1,
        events: [],
        layout: { padding: { left: 0, top: 7, right: 0, bottom: 0 } },
        plugins: { legend: { display: false }, tooltip: { enabled: false } },
        scales: {
          x: {
            type: "linear",
            min: -10.63,
            max: 237.6,
            afterBuildTicks: (s: any) => {
              s.ticks = [...xMajorTicks, ...xMinorTicks].sort((a, b) => a - b).map((v) => ({ value: v }));
            },
            afterFit: (s: any) => {
              s.height = 45;
            },
            ticks: {
              autoSkip: false,
              maxRotation: 0,
              minRotation: 0,
              padding: 2,
              color: "#4D4D4D",
              font: { family: FONT, size: 13.5 },
              callback: (v: any) => {
                const i = xMajorTicks.indexOf(Number(v));
                return i >= 0 ? xMajorLabels[i] : "";
              },
            },
            grid: {
              color: "#FFFFFF",
              lineWidth: (c: any) => (c.tick && isMajorX(c.tick.value) ? 2 : 1),
              tickColor: (c: any) => (c.tick && isMajorX(c.tick.value) ? "#333333" : "rgba(0,0,0,0)"),
              tickWidth: 1.5,
              tickLength: 4,
              drawTicks: true,
            },
            border: { display: false },
            title: {
              display: true,
              text: "Data de primeiros sintomas",
              color: "#000000",
              font: { family: FONT, size: 16.5 },
              padding: { top: 0, bottom: 0 },
            },
          },
          y: {
            type: "linear",
            min: -4.3,
            max: 92.9,
            afterBuildTicks: (s: any) => {
              s.ticks = [...yMajorTicks, ...yMinorTicks].sort((a, b) => a - b).map((v) => ({ value: v }));
            },
            afterFit: (s: any) => {
              s.width = 53;
            },
            ticks: {
              padding: 4,
              color: "#4D4D4D",
              font: { family: FONT, size: 13.5 },
              callback: (v: any) => (isMajorY(Number(v)) ? String(v) : ""),
            },
            grid: {
              color: "#FFFFFF",
              lineWidth: (c: any) => (c.tick && isMajorY(c.tick.value) ? 2 : 1),
              tickColor: (c: any) => (c.tick && isMajorY(c.tick.value) ? "#333333" : "rgba(0,0,0,0)"),
              tickWidth: 1.5,
              tickLength: 4,
              drawTicks: true,
            },
            border: { display: false },
            title: {
              display: true,
              text: "Taxa de incidência",
              color: "#000000",
              font: { family: FONT, size: 16.5 },
              padding: { top: 5, bottom: 0 },
            },
          },
        },
      } as any,
    });
    return () => chart.destroy();
  }, []);

  return (
    <div style={{ position: "absolute", left: 0, top: 0, width: 754, height: 504, background: "#FFFFFF" }}>
      <canvas ref={ref} width={754} height={504} style={{ display: "block", width: 754, height: 504 }} />
    </div>
  );
}
